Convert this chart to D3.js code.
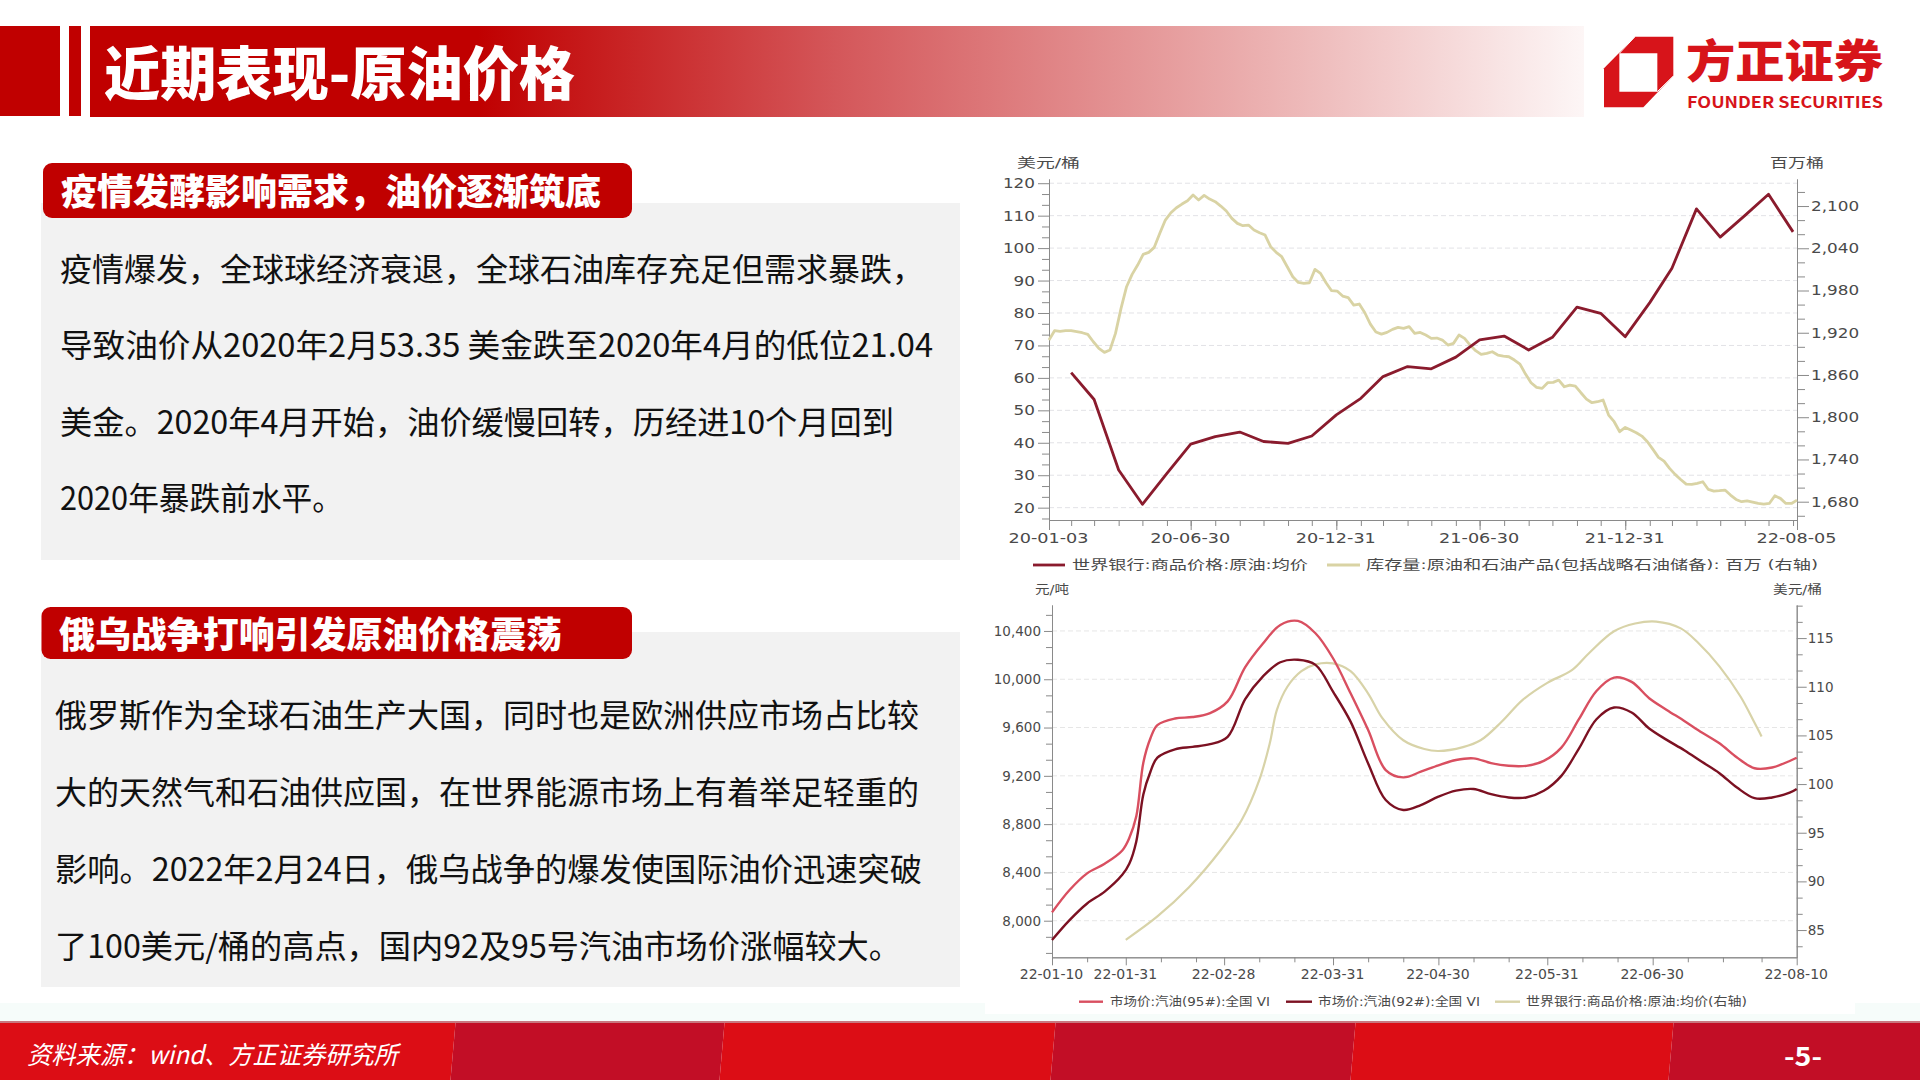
<!DOCTYPE html>
<html lang="zh">
<head>
<meta charset="utf-8">
<title>近期表现-原油价格</title>
<script src="https://cdn.jsdelivr.net/npm/d3@7/dist/d3.min.js"></script>
<style>
html,body{margin:0;padding:0;background:#fff;overflow:hidden}
svg{display:block}
text{font-family:"Noto Sans CJK SC","Noto Sans",sans-serif}
.tick text,.cht{font-family:"DejaVu Sans","Noto Sans CJK SC",sans-serif}
</style>
</head>
<body>
<svg id="page" width="1920" height="1080"></svg>
<script>
// ---------- chart 1 data ----------
const oilDates = ["2020-01-31","2020-02-29","2020-03-31","2020-04-30","2020-05-31","2020-06-30","2020-07-31","2020-08-31","2020-09-30","2020-10-31","2020-11-30","2020-12-31","2021-01-31","2021-02-28","2021-03-31","2021-04-30","2021-05-31","2021-06-30","2021-07-31","2021-08-31","2021-09-30","2021-10-31","2021-11-30","2021-12-31","2022-01-31","2022-02-28","2022-03-31","2022-04-30","2022-05-31","2022-06-30","2022-07-31"];
const oilPrice = [61.6,53.35,31.6,21.04,30.6,39.6,41.9,43.3,40.4,39.8,42.1,48.6,53.7,60.4,63.5,62.8,66.4,71.7,72.9,68.6,72.5,81.8,79.9,72.7,83.2,93.8,112.1,103.4,110,116.6,105];
const inventoryStart = "2020-01-03";
const inventoryWeekly = [1909.6,1922.9,1922,1923,1923,1921.5,1920,1917.7,1907.2,1897.8,1892.1,1895.4,1919.1,1954.6,1985.4,2002.9,2016.2,2031.3,2034.2,2041.3,2061.2,2080.1,2090.5,2097.6,2102.8,2107.6,2115.6,2108.5,2115.2,2109.9,2106.2,2100,2092.9,2082.5,2075.4,2072.1,2073,2065.9,2062.1,2058.8,2042.2,2034.2,2028,2013.8,1999.6,1991.5,1990.1,1991,2010,2004.3,1991,1979.7,1979.2,1972.1,1969.8,1959.3,1960.8,1948.4,1932.3,1921,1918.1,1920.5,1924.8,1927.6,1926.2,1928.6,1919.1,1920.5,1916.7,1912,1912.5,1909.6,1902.5,1904.9,1916.7,1912,1902.5,1894.5,1889.2,1890.7,1893,1888.3,1886.9,1885.9,1881.2,1875.5,1861.3,1849,1842.4,1841,1849,1849.5,1852.8,1843.3,1845.7,1844.3,1834.8,1825.8,1820.6,1822,1824.4,1803.1,1793.6,1779.4,1785.5,1781.7,1778,1773.2,1765.2,1754.3,1742.9,1737.7,1727.3,1718.8,1711.6,1705,1704.5,1706,1708.3,1697.4,1695.1,1695.6,1696.5,1689.4,1683.2,1680,1681.3,1679.5,1677.5,1676.6,1677.5,1688.4,1684.7,1677.5,1677.5,1682.3];
const c1XLabels = ["2020-01-03","2020-06-30","2020-12-31","2021-06-30","2021-12-31","2022-08-05"];
const c1LeftMajor = [20,30,40,50,60,70,80,90,100,110,120];
const c1RightMajor = [1680,1740,1800,1860,1920,1980,2040,2100];
const c1Legend = ["世界银行:商品价格:原油:均价","库存量:原油和石油产品(包括战略石油储备): 百万 (右轴)"];

// ---------- chart 2 data ----------
const gasDates = ["2022-01-10","2022-01-15","2022-01-20","2022-01-25","2022-01-30","2022-02-01","2022-02-03","2022-02-05","2022-02-07","2022-02-09","2022-02-14","2022-02-19","2022-02-24","2022-03-01","2022-03-06","2022-03-11","2022-03-16","2022-03-21","2022-03-26","2022-03-31","2022-04-05","2022-04-10","2022-04-15","2022-04-20","2022-04-25","2022-04-30","2022-05-05","2022-05-10","2022-05-15","2022-05-20","2022-05-25","2022-05-30","2022-06-04","2022-06-09","2022-06-14","2022-06-19","2022-06-24","2022-06-29","2022-07-04","2022-07-09","2022-07-14","2022-07-19","2022-07-24","2022-07-29","2022-08-03","2022-08-08","2022-08-10"];
const gas95 = [8069,8254,8392,8472,8582,8685,8865,9309,9509,9620,9675,9687,9720,9817,10100,10294,10450,10483,10381,10174,9884,9580,9248,9187,9234,9287,9331,9345,9305,9283,9283,9324,9434,9669,9903,10014,9978,9843,9746,9655,9559,9470,9352,9263,9269,9323,9350];
const gas92 = [7840,8005,8143,8241,8380,8472,8657,9046,9232,9351,9420,9440,9462,9523,9836,10022,10141,10161,10119,9897,9649,9303,9000,8917,8958,9027,9077,9091,9048,9021,9021,9076,9200,9426,9669,9766,9724,9592,9498,9412,9316,9222,9103,9015,9021,9060,9091];
const brentDates = ["2022-01-31","2022-02-09","2022-02-18","2022-02-27","2022-03-05","2022-03-10","2022-03-13","2022-03-15","2022-03-18","2022-03-22","2022-03-26","2022-03-31","2022-04-05","2022-04-10","2022-04-14","2022-04-20","2022-04-26","2022-04-30","2022-05-07","2022-05-12","2022-05-18","2022-05-24","2022-05-31","2022-06-07","2022-06-12","2022-06-19","2022-06-25","2022-07-01","2022-07-08","2022-07-13","2022-07-19","2022-07-25","2022-07-29","2022-07-31"];
const brentPrice = [84,86.4,89.4,93.2,96.3,100.4,104.2,107.6,110,111.6,112.3,112.4,111.6,109.3,106.8,104.5,103.6,103.4,103.8,104.5,106.4,108.65,110.4,111.7,113.5,115.7,116.5,116.7,116,114.5,112.1,109,106.3,104.9];
const c2XMinor = ["2022-01-20","2022-02-10","2022-02-20","2022-03-10","2022-03-20","2022-04-10","2022-04-20","2022-05-10","2022-05-20","2022-06-10","2022-06-20","2022-07-10","2022-07-20","2022-07-31"];
const c2XLabels = ["2022-01-10","2022-01-31","2022-02-28","2022-03-31","2022-04-30","2022-05-31","2022-06-30","2022-08-10"];
const c2LeftMajor = [8000,8400,8800,9200,9600,10000,10400];
const c2RightMajor = [85,90,95,100,105,110,115];
const c2Legend = ["市场价:汽油(95#):全国 VI","市场价:汽油(92#):全国 VI","世界银行:商品价格:原油:均价(右轴)"];

// ---------- page text (\uFF0C and \uFF1A are the full-width comma and colon) ----------
const pageTitle = "近期表现-原油价格";
const heading1 = "疫情发酵影响需求\uFF0C油价逐渐筑底";
const heading2 = "俄乌战争打响引发原油价格震荡";
const para1 = ["疫情爆发\uFF0C全球球经济衰退\uFF0C全球石油库存充足但需求暴跌\uFF0C","导致油价从2020年2月53.35 美金跌至2020年4月的低位21.04","美金。2020年4月开始\uFF0C油价缓慢回转\uFF0C历经进10个月回到","2020年暴跌前水平。"];
const para2 = ["俄罗斯作为全球石油生产大国\uFF0C同时也是欧洲供应市场占比较","大的天然气和石油供应国\uFF0C在世界能源市场上有着举足轻重的","影响。2022年2月24日\uFF0C俄乌战争的爆发使国际油价迅速突破","了100美元/桶的高点\uFF0C国内92及95号汽油市场价涨幅较大。"];
const sourceNote = "资料来源\uFF1Awind、方正证券研究所";
const pageNo = "-5-";

// ---------- helpers ----------
const svg = d3.select("#page");
const parse = d3.utcParse("%Y-%m-%d");
const RED = "#C00000";
const AXIS = "#8a8a8a";
const INK = "#4a4a4a";

function label(g, s, x, yMid, width, opts = {}) {
  const t = g.append("text").attr("x", x).attr("y", yMid).text(s)
    .attr("dominant-baseline", "central")
    .attr("font-size", opts.size || 13).attr("fill", opts.fill || INK)
    .attr("class", opts.cls || "cht");
  if (opts.weight) t.attr("font-weight", opts.weight);
  if (opts.italic) t.attr("font-style", "italic");
  if (width) t.attr("textLength", width).attr("lengthAdjust", "spacingAndGlyphs");
  return t;
}
function minorBetween(ticks, n) {
  const step = (ticks[1] - ticks[0]) / (n + 1), out = [];
  for (let i = -1; i < ticks.length; i++) for (let j = 1; j <= n; j++) {
    out.push((i < 0 ? ticks[0] - (ticks[1] - ticks[0]) : ticks[i]) + step * j);
  }
  return out;
}
function styleAxis(sel) {
  sel.selectAll("path,line").attr("stroke", AXIS).attr("stroke-width", 1);
  sel.selectAll("text").attr("fill", INK);
}

// ---------- page chrome ----------
const defs = svg.append("defs");
const grad = defs.append("linearGradient").attr("id", "hdr").attr("x1", 0).attr("x2", 1).attr("y1", 0).attr("y2", 0);
grad.append("stop").attr("offset", "0.26").attr("stop-color", RED);
grad.append("stop").attr("offset", "0.50").attr("stop-color", "#D4575A");
grad.append("stop").attr("offset", "0.78").attr("stop-color", "#EBAFAF");
grad.append("stop").attr("offset", "1").attr("stop-color", "#FDF6F6");

const chrome = svg.append("g");
chrome.append("rect").attr("x", 0).attr("y", 26).attr("width", 60).attr("height", 90).attr("fill", RED);
chrome.append("rect").attr("x", 69).attr("y", 26).attr("width", 12).attr("height", 90).attr("fill", RED);
chrome.append("rect").attr("x", 90).attr("y", 26).attr("width", 1494).attr("height", 91).attr("fill", "url(#hdr)");
label(chrome, pageTitle, 104, 70, 471, {size: 58, fill: "#fff", weight: 900, cls: "hd"});

// logo
const logo = chrome.append("g");
const lp = (x, y) => [1500 + x / 3, y / 3];
logo.append("polygon").attr("fill", "#D7141A").attr("points",
  [[405,110],[520,110],[520,228],[430,322],[312,322],[312,205]].map(p => lp(...p).join(",")).join(" "));
logo.append("polygon").attr("fill", "#fff").attr("points",
  [[358,160],[472,160],[472,275],[358,275]].map(p => lp(...p).join(",")).join(" "));
[[[358,160],[405,110]],[[472,275],[520,228]]].forEach(([a, b]) => {
  const p = lp(...a), q = lp(...b);
  logo.append("line").attr("x1", p[0]).attr("y1", p[1]).attr("x2", q[0]).attr("y2", q[1]).attr("stroke", "#fff").attr("stroke-width", 1);
});
label(logo, "方正证券", 1686, 58, 197, {size: 45, fill: "#D7141A", weight: 900, cls: "hd"});
label(logo, "FOUNDER SECURITIES", 1687, 101, 196, {size: 16, fill: "#D7141A", weight: 700, cls: "hd"});

// panels
[[203, 357, 43, 163, 55, heading1, 61, 189, 540, para1, 60, [267, 343, 420, 496], [864, 873, 834, 283]],
 [632, 355, 41.5, 607, 52, heading2, 59, 632, 503, para2, 55, [713, 790, 867, 944], [864, 864, 867, 846]]]
.forEach(([py, ph, hx, hy, hh, ht, tx, ty, tw, lines, lx, lys, lws]) => {
  chrome.append("rect").attr("x", 41).attr("y", py).attr("width", 919).attr("height", ph).attr("fill", "#F2F2F2");
  chrome.append("rect").attr("x", hx).attr("y", hy).attr("width", 632 - hx).attr("height", hh).attr("rx", 9).attr("fill", RED);
  label(chrome, ht, tx, ty, tw, {size: 36, fill: "#fff", weight: 900, cls: "hd"});
  lines.forEach((s, i) => label(chrome, s, lx, lys[i], lws[i], {size: 32, fill: "#111", cls: "hd"}));
});

// footer
chrome.append("rect").attr("x", 0).attr("y", 1003).attr("width", 1920).attr("height", 19).attr("fill", "#F6FCFA");
chrome.append("rect").attr("x", 985).attr("y", 990).attr("width", 870).attr("height", 24).attr("fill", "#fff");
chrome.append("rect").attr("x", 0).attr("y", 1021).attr("width", 1920).attr("height", 2).attr("fill", "#C9777F");
const footerEdges = [0, 453, 722, 1053, 1353, 1671, 1920];
footerEdges.slice(0, -1).forEach((x0, i) => {
  const x1 = footerEdges[i + 1];
  const a = i === 0 ? 0 : 2.5, b = i === 5 ? 0 : 2.5;
  chrome.append("polygon")
    .attr("points", `${x0 + a},1023 ${x1 + b},1023 ${x1 - b},1080 ${x0 - a},1080`)
    .attr("fill", i % 2 ? "#C20E26" : "#DC0D15");
});
label(chrome, sourceNote, 27, 1053, 371, {size: 25, fill: "#fff", italic: true, cls: "hd"});
label(chrome, pageNo, 1784, 1054, 38, {size: 26, fill: "#fff", weight: 700, cls: "hd"});

// ---------- chart 1 ----------
(function () {
  const g = svg.append("g");
  const L = 1049, R = 1797, T = 179, B = 520;
  const x = d3.scaleUtc().domain([parse(inventoryStart), parse("2022-08-05")]).range([L, R]);
  const yL = d3.scaleLinear().domain([16.2, 121.3]).range([B, T]);
  const yR = d3.scaleLinear().domain([1654, 2138.4]).range([B, T]);

  g.append("g").selectAll("line").data(c1LeftMajor).join("line")
    .attr("x1", L).attr("x2", R).attr("y1", yL).attr("y2", yL)
    .attr("stroke", "#e2e2e6").attr("stroke-dasharray", "5,3");

  const stretch = 1.2;
  const widen = sel => sel.selectAll("text").each(function () {
    const t = d3.select(this);
    t.attr("textLength", this.getComputedTextLength() * stretch).attr("lengthAdjust", "spacingAndGlyphs");
  });

  const minorL = minorBetween(c1LeftMajor, 2).filter(v => v > yL.domain()[0] && v < yL.domain()[1]);
  g.append("g").attr("transform", `translate(${L},0)`).call(d3.axisLeft(yL).tickValues(minorL).tickSize(7).tickFormat("").tickSizeOuter(0)).call(styleAxis);
  const ax = g.append("g").attr("transform", `translate(${L},0)`)
    .call(d3.axisLeft(yL).tickValues(c1LeftMajor).tickSize(11).tickPadding(3).tickSizeOuter(0)).call(styleAxis);
  ax.selectAll("text").attr("font-size", 14);
  ax.call(widen);

  const minorR = minorBetween(c1RightMajor, 2).filter(v => v > yR.domain()[0] && v < yR.domain()[1]);
  g.append("g").attr("transform", `translate(${R},0)`).call(d3.axisRight(yR).tickValues(minorR).tickSize(8).tickFormat("").tickSizeOuter(0)).call(styleAxis);
  const ar = g.append("g").attr("transform", `translate(${R},0)`)
    .call(d3.axisRight(yR).tickValues(c1RightMajor).tickSize(12).tickPadding(2).tickFormat(d3.format(",")).tickSizeOuter(0)).call(styleAxis);
  ar.selectAll("text").attr("font-size", 14);
  ar.call(widen);

  g.append("g").attr("transform", `translate(0,${B})`)
    .call(d3.axisBottom(x).tickValues(oilDates.map(parse)).tickSize(6).tickFormat("").tickSizeOuter(0)).call(styleAxis);
  const ab = g.append("g").attr("transform", `translate(0,${B})`)
    .call(d3.axisBottom(x).tickValues(c1XLabels.map(parse)).tickSize(10).tickPadding(3).tickFormat(d3.utcFormat("%y-%m-%d")).tickSizeOuter(0)).call(styleAxis);
  ab.selectAll("text").attr("font-size", 14).attr("textLength", 80).attr("lengthAdjust", "spacingAndGlyphs").attr("x", -1);

  const invDates = inventoryWeekly.map((_, i) => d3.utcDay.offset(parse(inventoryStart), i * 7));
  g.append("path").datum(inventoryWeekly)
    .attr("fill", "none").attr("stroke", "#D9D3A4").attr("stroke-width", 2.8).attr("stroke-linejoin", "round")
    .attr("d", d3.line().x((_, i) => x(invDates[i])).y(d => yR(d)));
  g.append("path").datum(oilPrice)
    .attr("fill", "none").attr("stroke", "#8A1B2D").attr("stroke-width", 2.8).attr("stroke-linejoin", "round")
    .attr("d", d3.line().x((_, i) => x(parse(oilDates[i]))).y(d => yL(d)));

  label(g, "美元/桶", 1017, 162, 63, {size: 13});
  label(g, "百万桶", 1770, 162, 54, {size: 13});
  const lg = g.append("g");
  lg.append("line").attr("x1", 1033).attr("x2", 1065).attr("y1", 565).attr("y2", 565).attr("stroke", "#8A1B2D").attr("stroke-width", 2.8);
  label(lg, c1Legend[0], 1072, 564, 236, {size: 13});
  lg.append("line").attr("x1", 1327).attr("x2", 1360).attr("y1", 565).attr("y2", 565).attr("stroke", "#D9D3A4").attr("stroke-width", 2.8);
  label(lg, c1Legend[1], 1366, 564, 452, {size: 13});
})();

// ---------- chart 2 ----------
(function () {
  const g = svg.append("g");
  const L = 1052, R = 1796.7, T = 605, B = 957.3;
  const x = d3.scaleUtc().domain([parse("2022-01-10"), parse("2022-08-10")]).range([L, R]);
  const yL = d3.scaleLinear().domain([7697, 10615]).range([B, T]);
  const yR = d3.scaleLinear().domain([82.2, 118.4]).range([B, T]);

  g.append("g").selectAll("line").data(c2LeftMajor).join("line")
    .attr("x1", L).attr("x2", R).attr("y1", yL).attr("y2", yL)
    .attr("stroke", "#e6e6e6").attr("stroke-dasharray", "5,3");

  const minorL = minorBetween(c2LeftMajor, 2).filter(v => v > yL.domain()[0] && v < yL.domain()[1]);
  g.append("g").attr("transform", `translate(${L},0)`).call(d3.axisLeft(yL).tickValues(minorL).tickSize(6).tickFormat("").tickSizeOuter(0)).call(styleAxis);
  g.append("g").attr("transform", `translate(${L},0)`)
    .call(d3.axisLeft(yL).tickValues(c2LeftMajor).tickSize(8).tickPadding(3).tickFormat(d3.format(",")).tickSizeOuter(0)).call(styleAxis)
    .selectAll("text").attr("font-size", 13.5);

  const minorR = minorBetween(c2RightMajor, 2).filter(v => v > yR.domain()[0] && v < yR.domain()[1]);
  g.append("g").attr("transform", `translate(${R},0)`).call(d3.axisRight(yR).tickValues(minorR).tickSize(6).tickFormat("").tickSizeOuter(0)).call(styleAxis);
  g.append("g").attr("transform", `translate(${R},0)`)
    .call(d3.axisRight(yR).tickValues(c2RightMajor).tickSize(10).tickPadding(1).tickSizeOuter(0)).call(styleAxis)
    .selectAll("text").attr("font-size", 13.5);

  g.append("g").attr("transform", `translate(0,${B})`)
    .call(d3.axisBottom(x).tickValues(c2XMinor.map(parse)).tickSize(5).tickFormat("").tickSizeOuter(0)).call(styleAxis);
  g.append("g").attr("transform", `translate(0,${B})`)
    .call(d3.axisBottom(x).tickValues(c2XLabels.map(parse)).tickSize(8).tickPadding(4).tickFormat(d3.utcFormat("%y-%m-%d")).tickSizeOuter(0)).call(styleAxis)
    .selectAll("text").attr("font-size", 14).attr("x", -1);

  const curve = d3.curveCatmullRom.alpha(0.5);
  const draw = (values, dates, yScale, colour, w) => g.append("path").datum(values)
    .attr("fill", "none").attr("stroke", colour).attr("stroke-width", w)
    .attr("d", d3.line().curve(curve).x((_, i) => x(parse(dates[i]))).y(d => yScale(d)));
  draw(brentPrice, brentDates, yR, "#D8D3A8", 2.2);
  draw(gas95, gasDates, yL, "#D94F60", 2.4);
  draw(gas92, gasDates, yL, "#7C1122", 2.4);

  label(g, "元/吨", 1035, 589, 34, {size: 12.5});
  label(g, "美元/桶", 1773, 589, 49, {size: 12.5});
  const lg = g.append("g");
  const rows = [[1079, 1103, "#D94F60", 1110, 160], [1286, 1312, "#7C1122", 1318, 162], [1495, 1520, "#D8D3A8", 1526, 221]];
  rows.forEach(([a, b, colour, tx, tw], i) => {
    lg.append("line").attr("x1", a).attr("x2", b).attr("y1", 1001.7).attr("y2", 1001.7).attr("stroke", colour).attr("stroke-width", 2.4);
    label(lg, c2Legend[i], tx, 1001.7, tw, {size: 12.5});
  });
})();
</script>
</body>
</html>
